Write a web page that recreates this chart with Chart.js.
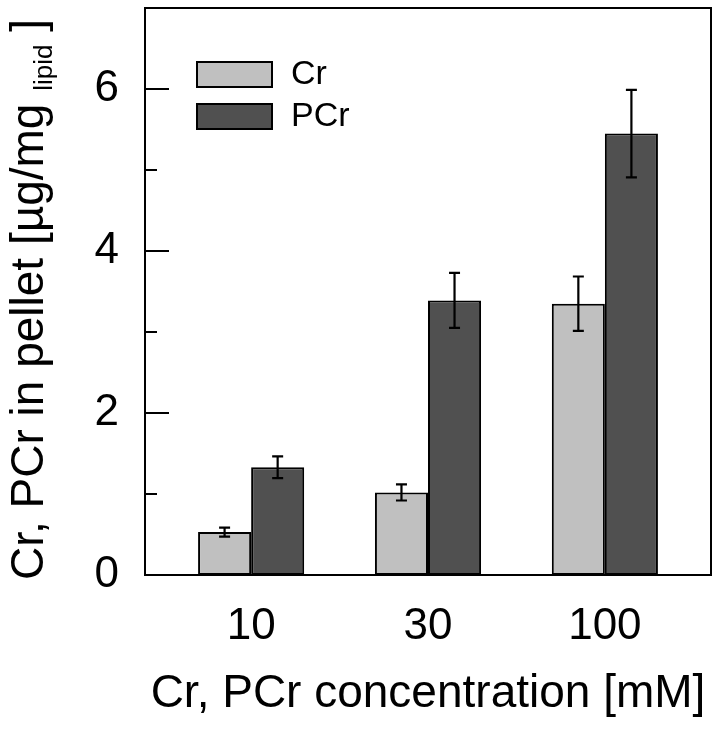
<!DOCTYPE html>
<html>
<head>
<meta charset="utf-8">
<script src="https://cdn.jsdelivr.net/npm/chart.js@4.4.1/dist/chart.umd.min.js"></script>
<style>
  html, body { margin: 0; padding: 0; background: #fff; }
  #wrap { width: 720px; height: 736px; }
</style>
</head>
<body>
<div id="wrap"><canvas id="pelletChart" width="720" height="736"></canvas></div>
<script>
const categories = ['10', '30', '100'];
const crValues = [0.53, 1.02, 3.35];
const crErrors = [0.055, 0.10, 0.335];
const pcrValues = [1.33, 3.39, 5.45];
const pcrErrors = [0.135, 0.34, 0.54];
const yLabels = [0, 2, 4, 6];

const FONT = "'Liberation Sans', Arial, sans-serif";

function toPoints(values) {
    return values.map((v, i) => ({ x: i, y: v }));
}

function noPadding(scale) {
    scale.paddingTop = 0;
    scale.paddingBottom = 0;
    scale.paddingLeft = 0;
    scale.paddingRight = 0;
}

// error bars, inward tick marks, frame, legend and y title
const decorPlugin = {
    id: 'decor',
    afterDatasetsDraw(chart) {
        const ctx = chart.ctx;
        const y = chart.scales.y;
        const area = chart.chartArea;

        ctx.save();
        ctx.strokeStyle = '#000';
        ctx.lineWidth = 2.2;
        chart.data.datasets.forEach((ds, di) => {
            const meta = chart.getDatasetMeta(di);
            meta.data.forEach((bar, i) => {
                const v = ds.data[i].y, e = ds.errors[i];
                const top = y.getPixelForValue(v + e);
                const bot = y.getPixelForValue(v - e);
                ctx.beginPath();
                ctx.moveTo(bar.x, top); ctx.lineTo(bar.x, bot);
                ctx.moveTo(bar.x - 5.5, top); ctx.lineTo(bar.x + 5.5, top);
                ctx.moveTo(bar.x - 5.5, bot); ctx.lineTo(bar.x + 5.5, bot);
                ctx.stroke();
            });
        });

        // tick marks pointing inside
        ctx.lineWidth = 2;
        y.ticks.forEach(t => {
            if (t.value <= 0 || t.value >= y.max) return;
            const py = y.getPixelForValue(t.value);
            const len = t.value % 2 === 0 ? 24 : 12;
            ctx.beginPath();
            ctx.moveTo(area.left, py); ctx.lineTo(area.left + len, py);
            ctx.stroke();
        });

        ctx.strokeRect(area.left, area.top, area.right - area.left, area.bottom - area.top);

        // legend
        ctx.font = '34px ' + FONT;
        ctx.textBaseline = 'middle';
        ctx.textAlign = 'left';
        chart.data.datasets.forEach((ds, di) => {
            const bx = 197, by = 62 + di * 42;
            ctx.fillStyle = ds.backgroundColor;
            ctx.fillRect(bx, by, 75, 25);
            ctx.strokeRect(bx, by, 75, 25);
            ctx.fillStyle = '#000';
            ctx.fillText(ds.label, 291, by + 13);
        });
        ctx.restore();

        // y title with subscript
        ctx.save();
        ctx.translate(43, 580);
        ctx.rotate(-Math.PI / 2);
        ctx.fillStyle = '#000';
        ctx.textBaseline = 'alphabetic';
        ctx.textAlign = 'left';
        ctx.font = '46px ' + FONT;
        const main = 'Cr, PCr in pellet [\u00b5g/mg ';
        ctx.fillText(main, 0, 0);
        let w = ctx.measureText(main).width;
        ctx.font = '26px ' + FONT;
        ctx.fillText('lipid', w, 9);
        w += ctx.measureText('lipid').width;
        ctx.font = '46px ' + FONT;
        ctx.fillText(' ]', w, 0);
        ctx.restore();
    }
};

const ctx = document.getElementById('pelletChart').getContext('2d');
const pelletChart = new Chart(ctx, {
    type: 'bar',
    data: {
        datasets: [{
            label: 'Cr',
            data: toPoints(crValues),
            errors: crErrors,
            backgroundColor: '#c0c0c0',
            borderColor: '#000',
            borderWidth: 2,
            borderSkipped: false
        }, {
            label: 'PCr',
            data: toPoints(pcrValues),
            errors: pcrErrors,
            backgroundColor: '#505050',
            borderColor: '#000',
            borderWidth: 2,
            borderSkipped: false
        }]
    },
    options: {
        responsive: false,
        animation: false,
        layout: { padding: { top: 8, right: 9, left: 0, bottom: 0 } },
        datasets: { bar: { categoryPercentage: 0.6, barPercentage: 1.0, grouped: true } },
        plugins: { legend: { display: false }, tooltip: { enabled: false } },
        scales: {
            x: {
                type: 'linear',
                min: -0.6,
                max: 2.6,
                offset: false,
                afterBuildTicks: scale => { scale.ticks = categories.map((c, i) => ({ value: i })); },
                afterFit: scale => { scale.height = 161; noPadding(scale); },
                grid: { display: false, drawTicks: false },
                border: { display: false },
                ticks: {
                    callback: v => categories[v],
                    color: '#000',
                    font: { family: FONT, size: 44 },
                    padding: 25,
                    maxRotation: 0,
                    autoSkip: false
                },
                title: {
                    display: true,
                    text: 'Cr, PCr concentration [mM]',
                    color: '#000',
                    font: { family: FONT, size: 46 },
                    padding: { top: 0, bottom: 14 }
                }
            },
            y: {
                min: 0,
                max: 7,
                afterFit: scale => { scale.width = 145; noPadding(scale); },
                grid: { display: false, drawTicks: false },
                border: { display: false },
                ticks: {
                    stepSize: 1,
                    autoSkip: false,
                    callback: v => yLabels.includes(v) ? String(v) : '',
                    color: '#000',
                    font: { family: FONT, size: 44 },
                    padding: 26
                }
            }
        }
    },
    plugins: [decorPlugin]
});
</script>
</body>
</html>
